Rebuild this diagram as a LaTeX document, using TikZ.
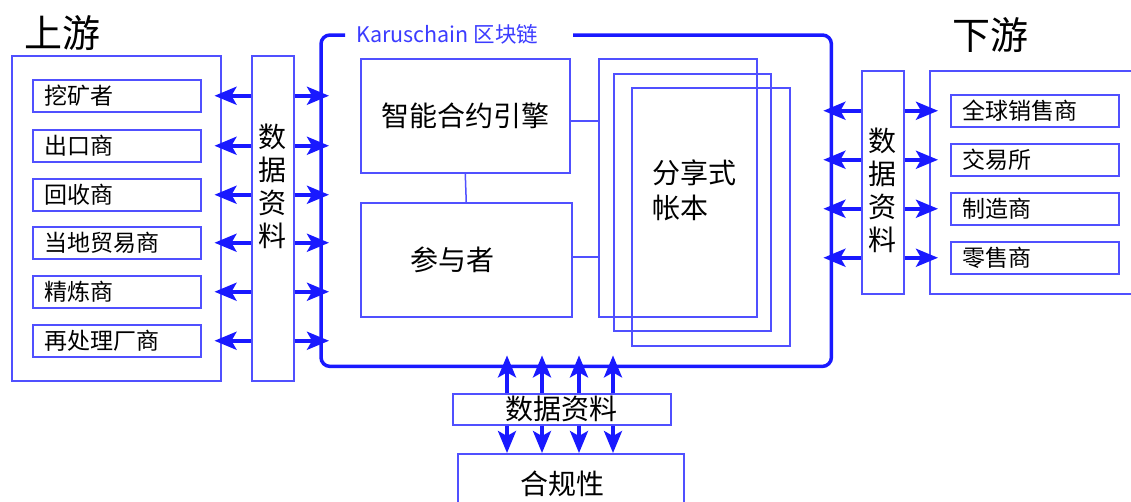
\documentclass[tikz,border=0pt]{standalone}
\usepackage{fontspec}
\setmainfont{Noto Sans CJK SC}
\usetikzlibrary{arrows.meta}
\definecolor{thinblue}{RGB}{80,80,255}
\definecolor{thickblue}{RGB}{25,25,255}
\definecolor{titleblue}{RGB}{60,60,255}
\begin{document}
\begin{tikzpicture}[x=1pt,y=-1pt,
  box/.style={draw=thinblue, line width=1.5pt, inner sep=0pt, anchor=north west},
  thinline/.style={draw=thinblue, line width=1.5pt},
  item/.style={box, minimum height=32pt, text width=144pt, inner xsep=12pt, align=left, font=\fontsize{23}{23}\selectfont},
  big/.style={font=\fontsize{28}{33}\selectfont},
  head/.style={font=\fontsize{38}{38}\selectfont},
  dart/.style={draw=thickblue, line width=3.5pt, -{Stealth[length=22pt,width=18pt,inset=5pt]}}]
\useasboundingbox (0,0) rectangle (1131,501);
\begin{scope}
\clip (0,0) rectangle (1131,501);
% upstream
\node[head] (uptitle) at (62,33) {上游};
\node[box, minimum width=209pt, minimum height=325pt] (up) at (11,55) {};
\node[item] (u1) at (32,79) {挖矿者};
\node[item] (u2) at (32,129) {出口商};
\node[item] (u3) at (32,178) {回收商};
\node[item] (u4) at (32,226) {当地贸易商};
\node[item] (u5) at (32,275) {精炼商};
\node[item] (u6) at (32,324) {再处理厂商};
\node[box, minimum width=42pt, minimum height=325pt] (dl) at (251,55) {};
\node[big, align=center] (dltext) at (272,186) {数\\据\\资\\料};
% blockchain
\node[anchor=north west, minimum width=510pt, minimum height=331pt, inner sep=0pt] (bc) at (321,35) {};
\draw[draw=thickblue, line width=3.5pt, rounded corners=9pt]
  ([xshift=24pt]bc.north west) -| (bc.south west) -| (bc.north east) -- ([xshift=252pt]bc.north west);
\node[text=titleblue, font=\fontsize{21.5}{21.5}\selectfont, anchor=west, inner sep=0pt] (bctitle) at (356,34) {Karuschain 区块链};
\node[box, big, minimum width=209pt, minimum height=114pt] (sc) at (360,58) {智能合约引擎};
\node[box, big, minimum height=114pt, text width=111pt, inner xsep=50pt, align=left] (pa) at (360,202) {参与者};
\node[box, minimum width=158pt, minimum height=258pt] (l1) at (598,58) {};
\node[box, minimum width=157pt, minimum height=257pt] (l2) at (613,73) {};
\node[box, minimum width=158pt, minimum height=258pt] (l3) at (631,87) {};
\node[anchor=west, align=left, inner sep=0pt, font=\fontsize{28}{35}\selectfont] (ledtext) at (652,190) {分享式\\帐本};
\draw[thinline] (sc.south) -- (pa.north);
\draw[thinline] ([yshift=-5pt]sc.east) coordinate (a1) -- (a1 -| l1.west);
\draw[thinline] ([yshift=3pt]pa.east) coordinate (a2) -- (a2 -| l1.west);
% downstream
\node[head] (dntitle) at (990,35) {下游};
\node[box, minimum width=42pt, minimum height=223pt] (dr) at (861,70) {};
\node[big, align=center] (drtext) at (882,190) {数\\据\\资\\料};
\node[box, minimum width=230pt, minimum height=223pt] (down) at (929,70) {};
\node[item] (d1) at (950,94) {全球销售商};
\node[item] (d2) at (950,143) {交易所};
\node[item] (d3) at (950,192) {制造商};
\node[item] (d4) at (950,241) {零售商};
% bottom
\node[box, big, minimum width=218pt, minimum height=31pt] (bd) at (452,393) {数据资料};
\node[box, big, minimum height=60pt, text width=100pt, inner xsep=63pt, align=left] (comp) at (457,453) {合规性};
% arrows
\foreach \n in {u1,u2,u3,u4,u5,u6}{
  \draw[dart, shorten >=-7pt] (dl.west |- \n) -- (up.east |- \n);
  \draw[dart, shorten >=-8pt] (dl.east |- \n) -- (bc.west |- \n);
}
\foreach \n in {d1,d2,d3,d4}{
  \draw[dart, shorten >=-8pt] (dr.west |- \n) -- (bc.east |- \n);
  \draw[dart, shorten >=-9pt] (dr.east |- \n) -- (down.west |- \n);
}
\foreach \x [count=\i] in {507,542,579,613}{
  \coordinate (x\i) at (\x,408);
  \draw[dart, shorten >=-11pt] (bd.north -| x\i) -- (bc.south -| x\i);
  \draw[dart] (bd.south -| x\i) -- (comp.north -| x\i);
}
\end{scope}
\end{tikzpicture}
\end{document}
